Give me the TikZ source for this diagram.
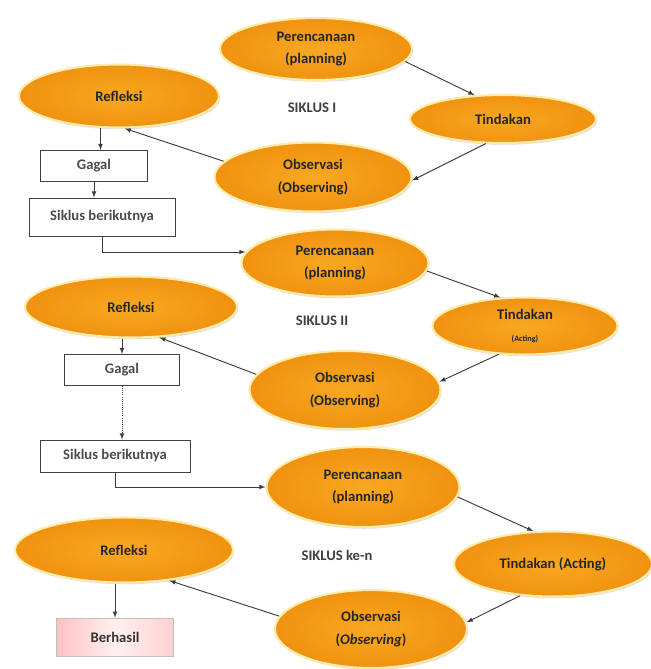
\documentclass[tikz,border=0pt]{standalone}
\usepackage{fontspec}
\setmainfont{Carlito}
\usepackage{tikz}
\usetikzlibrary{arrows,shapes.geometric,shadows}
\definecolor{oranye}{RGB}{248,168,34}
\definecolor{oranyetua}{RGB}{240,146,16}
\definecolor{krem}{RGB}{253,236,172}
\definecolor{garis}{RGB}{60,60,60}

\begin{document}
\begin{tikzpicture}[x=0.03cm,y=-0.03cm,font=\fontsize{12.5}{19}\selectfont\bfseries]
	\tikzstyle{tahap}=[ellipse,draw=krem,line width=1.8pt,inner color=oranye,outer color=oranyetua,drop shadow={opacity=0.25,shadow xshift=1pt,shadow yshift=-1.5pt},align=center,inner sep=0pt,text=black!85]
	\tikzstyle{kotak}=[rectangle,draw=black!75,line width=0.8pt,fill=white,text=black!70]
	\tikzstyle{sukses}=[rectangle,draw=black!25,line width=0.6pt,left color=red!24,right color=red!18,middle color=red!6,drop shadow={opacity=0.35,shadow xshift=0.5pt,shadow yshift=-1.2pt},text=black!80]
	\tikzstyle{judul}=[text=black!75]
	\tikzstyle{panah}=[draw=garis,line width=0.8pt,-latex]
	\useasboundingbox (0,0) rectangle (651,669);
	\node[tahap,minimum width=5.76cm,minimum height=1.86cm] (p1) at (316,49) {Perencanaan\\(planning)};
	\node[tahap,minimum width=6.0cm,minimum height=1.89cm] (r1) at (119,96) {Refleksi};
	\node[judul] (k1) at (312,108) {SIKLUS I};
	\node[tahap,minimum width=5.58cm,minimum height=1.44cm] (t1) at (503,119) {Tindakan};
	\node[tahap,minimum width=5.91cm,minimum height=2.07cm] (o1) at (313,177) {Observasi\\(Observing)};
	\node[kotak,minimum width=3.21cm,minimum height=0.93cm] (g1) at (94,166) {Gagal};
	\node[kotak,minimum width=4.38cm,minimum height=1.14cm] (s1) at (102,217) {Siklus berikutnya};
	\node[tahap,minimum width=5.61cm,minimum height=2.01cm] (p2) at (335,263) {Perencanaan\\(planning)};
	\node[tahap,minimum width=6.36cm,minimum height=1.83cm] (r2) at (131,307) {Refleksi};
	\node[judul] (k2) at (322,321) {SIKLUS II};
	\node[tahap,minimum width=5.55cm,minimum height=1.71cm] (t2) at (525,326) {Tindakan\\{\fontsize{7}{8}\selectfont(Acting)}};
	\node[tahap,minimum width=5.73cm,minimum height=2.34cm] (o2) at (345,390) {Observasi\\(Observing)};
	\node[kotak,minimum width=3.45cm,minimum height=0.93cm] (g2) at (122,370) {Gagal};
	\node[kotak,minimum width=4.5cm,minimum height=0.96cm] (s2) at (115,456) {Siklus berikutnya};
	\node[tahap,minimum width=5.79cm,minimum height=2.4cm] (p3) at (363,487) {Perencanaan\\(planning)};
	\node[tahap,minimum width=6.54cm,minimum height=1.95cm] (r3) at (124,550) {Refleksi};
	\node[judul] (k3) at (337,555) {SIKLUS ke-n};
	\node[tahap,minimum width=5.94cm,minimum height=1.95cm] (t3) at (553,564) {Tindakan (Acting)};
	\node[tahap,minimum width=5.76cm,minimum height=2.34cm] (o3) at (371,629) {Observasi\\(\textit{Observing})};
	\node[sukses,minimum width=3.51cm,minimum height=1.14cm] (b) at (115,637) {Berhasil};
	\draw[panah] (p1.-8) -- (t1.140);
	\draw[panah] (t1.-125) -- (o1.-2);
	\draw[panah] (o1.170) -- (r1.-80);
	\draw[panah] (r1.-120) -- (r1.-120 |- g1.north);
	\draw[panah] (g1.south) -- (g1.south |- s1.north);
	\draw[panah] (s1.south) |- (p2.173);
	\draw[panah] (p2.-5) -- (t2.131);
	\draw[panah] (t2.-133) -- (o2.5);
	\draw[panah] (o2.170) -- (r2.-47);
	\draw[panah] (r2.south -| g2.north) -- (g2.north);
	\draw[panah,densely dotted] (g2.south) -- (g2.south |- s2.north);
	\draw[panah] (s2.south) |- (p3.west);
	\draw[panah] (p3.-6) -- (t3.121);
	\draw[panah] (t3.-136) -- (o3.4);
	\draw[panah] (o3.172) -- (r3.-34);
	\draw[panah] (r3.south -| b.north) -- (b.north);
\end{tikzpicture}
\end{document}
